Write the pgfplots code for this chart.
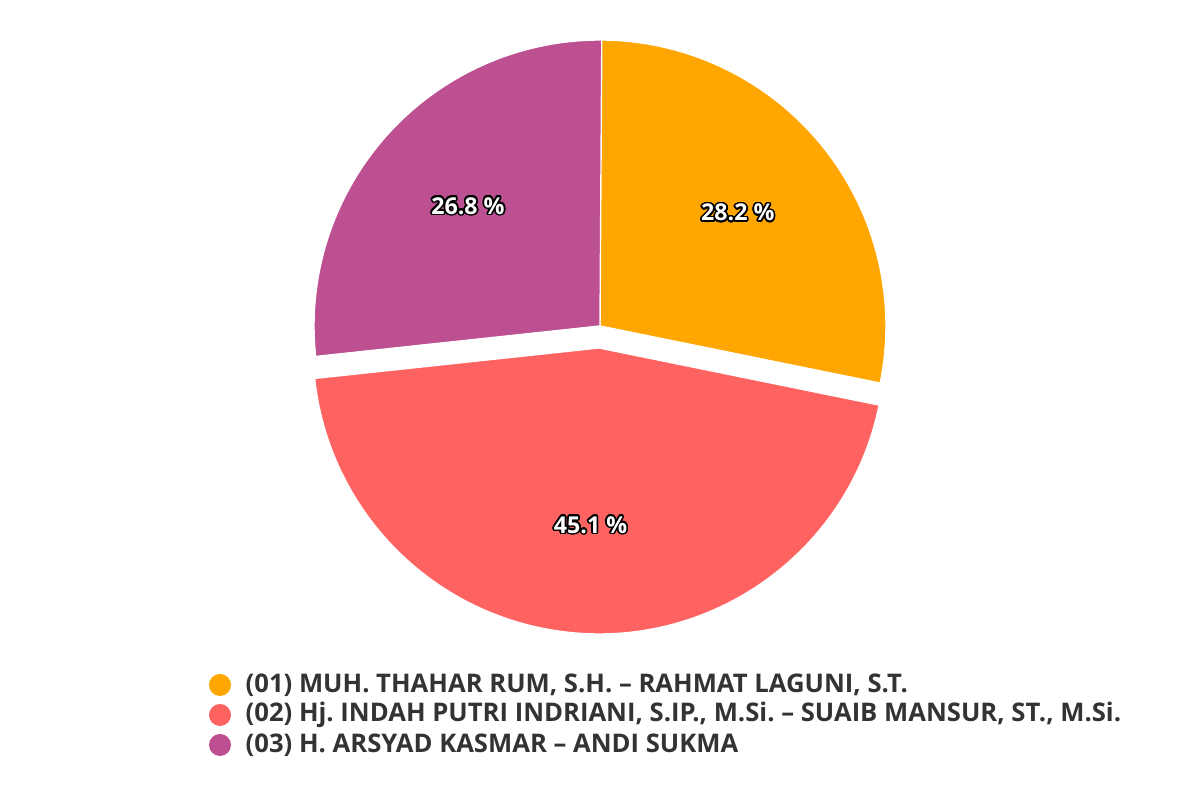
\documentclass[border=0pt]{standalone}
\usepackage{pgfplots}
\pgfplotsset{compat=1.18}
\usepackage{pgfplotstable}
\usepackage{fontspec}
\setmainfont{Open Sans}
\usepackage{contour}
\contourlength{0.45pt}
\contournumber{24}
\frenchspacing

\definecolor{cA}{HTML}{FFA600}
\definecolor{cB}{HTML}{FF6361}
\definecolor{cC}{HTML}{BC5090}
\definecolor{txt}{HTML}{333333}

% share of votes (%), explode offset (px), colour
\pgfplotstableread{
value explode colour
28.2  0  cA
45.1  22 cB
26.8  0  cC
}\piedata

% slice angles and centres, in pixel units (y downwards)
\def\cum{0}
\foreach \i in {0,1,2}{
  \pgfplotstablegetelem{\i}{value}\of\piedata \let\v\pgfplotsretval
  \pgfplotstablegetelem{\i}{explode}\of\piedata \let\ex\pgfplotsretval
  \pgfplotstablegetelem{\i}{colour}\of\piedata \let\col\pgfplotsretval
  \pgfmathsetmacro\s{90-3.6*\cum}
  \pgfmathsetmacro\e{90-3.6*(\cum+\v)}
  \pgfmathsetmacro\m{(\s+\e)/2}
  \pgfmathsetmacro\cx{600+\ex*cos(\m)}
  \pgfmathsetmacro\cy{326-\ex*sin(\m)}
  \pgfmathsetmacro\lx{\cx+178*cos(\m)}
  \pgfmathsetmacro\ly{\cy-178*sin(\m)}
  \expandafter\xdef\csname pieS\i\endcsname{\s}
  \expandafter\xdef\csname pieE\i\endcsname{\e}
  \expandafter\xdef\csname pieX\i\endcsname{\cx}
  \expandafter\xdef\csname pieY\i\endcsname{\cy}
  \expandafter\xdef\csname pieLX\i\endcsname{\lx}
  \expandafter\xdef\csname pieLY\i\endcsname{\ly}
  \expandafter\xdef\csname pieV\i\endcsname{\v}
  \expandafter\xdef\csname pieC\i\endcsname{\col}
  \pgfmathsetmacro\nc{\cum+\v}
  \xdef\cum{\nc}
}

\begin{document}
\begin{tikzpicture}
\begin{axis}[
  hide axis, scale only axis,
  width=12cm, height=8cm,
  xmin=0, xmax=1200, ymin=0, ymax=800,
  y dir=reverse, clip=false,
  /pgf/number format/assume math mode=true,
]
\path (rel axis cs:0,0) rectangle (rel axis cs:1,1);
\pgfplotsinvokeforeach{0,1,2}{
  \fill[fill=\csname pieC#1\endcsname, draw=white, line width=0.4pt, line join=round]
    (axis cs:\csname pieX#1\endcsname,\csname pieY#1\endcsname)
    -- ++(\csname pieS#1\endcsname:2.86cm)
    arc[start angle=\csname pieS#1\endcsname, end angle=\csname pieE#1\endcsname, radius=2.86cm]
    -- cycle;
}
\pgfplotsinvokeforeach{0,1,2}{
  \node[font=\fontsize{6.6}{8}\selectfont\bfseries, text=white]
    at (axis cs:\csname pieLX#1\endcsname,\csname pieLY#1\endcsname)
    {\contour{black}{\pgfmathprintnumber[fixed,precision=1,fixed zerofill,assume math mode=true]{\csname pieV#1\endcsname}~\%}};
}
% legend
\pgfplotsinvokeforeach{0,1,2}{
  \fill[fill=\csname pieC#1\endcsname] (axis cs:220,685+30*#1) circle[radius=0.11cm];
}
\begin{scope}[every node/.style={anchor=west, text=txt, font=\fontsize{7.3}{8.5}\selectfont\bfseries, inner sep=0pt}]
\node at (axis cs:245,685) {(01) MUH. THAHAR RUM, S.H. – RAHMAT LAGUNI, S.T.};
\node at (axis cs:245,715) {(02) Hj. INDAH PUTRI INDRIANI, S.IP., M.Si. – SUAIB MANSUR, ST., M.Si.};
\node at (axis cs:245,745) {(03) H. ARSYAD KASMAR – ANDI SUKMA};
\end{scope}
\end{axis}
\end{tikzpicture}
\end{document}
